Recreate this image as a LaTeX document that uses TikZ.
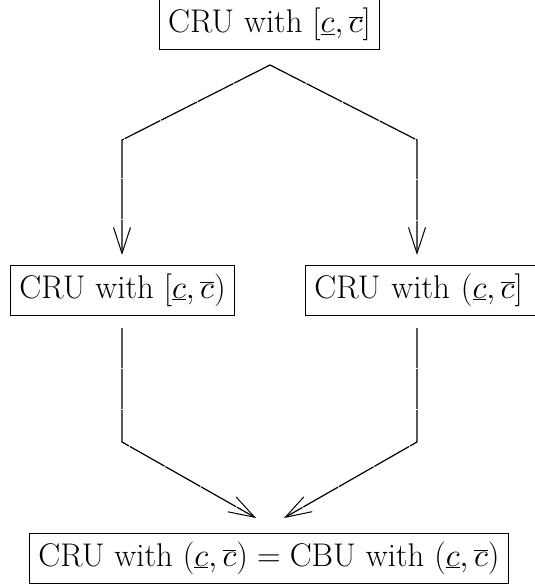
\RequirePackage{fix-cm}
\documentclass[tikz,border=0pt]{standalone}
\usetikzlibrary{arrows.meta}
\begin{document}
\begin{tikzpicture}[x=1pt,y=-1pt,
  box/.style={draw, line width=0.9pt, inner xsep=9pt, inner ysep=0pt, minimum height=50pt, font=\fontsize{32.8}{38}\selectfont},
  conn/.style={line width=1.2pt, dash pattern=on 40pt off 1pt, -{Straight Barb[length=26pt,width=17pt,line width=1pt]}}]
\useasboundingbox (0,0) rectangle (535,586);
\node[box] (top) at (269.5,24.5) {CRU with $[\underline{c},\overline{c}]$};
\node[box, anchor=west] (left) at (10,290) {CRU with $[\underline{c},\overline{c})$};
\node[box, anchor=west, text width=218pt, align=left] (right) at (305,290) {CRU with $(\underline{c},\overline{c}]$};
\node[box] (bot) at (269,558) {CRU with $(\underline{c},\overline{c}) = \mathrm{CBU}$ with $(\underline{c},\overline{c})$};
\coordinate (peak) at (270,65);
\coordinate (lc) at (122,140);
\coordinate (rc) at (417,140);
\coordinate (lt) at (122,255);
\coordinate (rt) at (417,255);
\coordinate (ls) at (122,328);
\coordinate (rs) at (417,328);
\coordinate (lb) at (122,442);
\coordinate (rb) at (417,442);
\coordinate (la) at (256,518);
\coordinate (ra) at (284,518);
\draw[conn] (peak) -- (lc) -- (lt);
\draw[conn] (peak) -- (rc) -- (rt);
\draw[conn] (ls) -- (lb) -- (la);
\draw[conn] (rs) -- (rb) -- (ra);
\end{tikzpicture}
\end{document}
